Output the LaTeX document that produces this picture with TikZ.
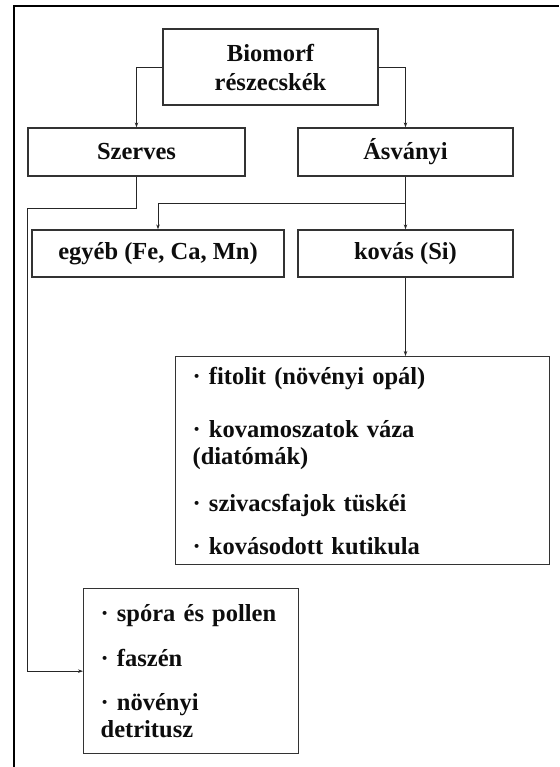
\documentclass[tikz,border=0pt]{standalone}
\usepackage{fontspec}
\setmainfont{Liberation Serif}
\newcommand\bxfont{\fontsize{24.5pt}{27pt}\selectfont\bfseries}
\usetikzlibrary{arrows.meta}
\begin{document}
\begin{tikzpicture}[x=1pt,y=-1pt,
  box/.style={draw=black!80,line width=1.3pt,inner sep=0pt,font=\bxfont,text=black!95,align=center},
  listbox/.style={box,align=left,anchor=north west,inner xsep=17pt},
  conn/.style={draw=black!85,line width=0.9pt},
  arr/.style={conn,-{Stealth[length=5pt,width=3.5pt]}},
  frame/.style={draw=black,line width=2.4pt}]
\useasboundingbox (0,0) rectangle (559,767);
\draw[frame] (14,767) -- (14,6) -- (559,6);
\node[box,minimum width=215pt,minimum height=76pt] (bio) at (270.5,67) {Biomorf\\[2pt]részecskék};
\node[box,minimum width=217pt,minimum height=48pt] (sz) at (136.5,152) {Szerves};
\node[box,minimum width=215pt,minimum height=48pt] (asv) at (405.5,152) {Ásványi};
\node[box,minimum width=252pt,minimum height=47pt] (egy) at (158,253.5) {egyéb (Fe, Ca, Mn)};
\node[box,minimum width=215pt,minimum height=47pt] (kov) at (405.5,253.5) {kovás (Si)};
\node[listbox,text width=340pt,minimum width=374pt,minimum height=208pt] (lst) at (175,356) {%
· fitolit (növényi opál)\\[26pt]
· kovamoszatok váza\\
(diatómák)\\[20pt]
· szivacsfajok tüskéi\\[16pt]
· kovásodott kutikula};
\node[listbox,text width=181pt,minimum width=215pt,minimum height=165pt] (bot) at (83,588) {%
· spóra és pollen\\[18pt]
· faszén\\[17pt]
· növényi\\
detritusz};
\coordinate (br) at (405.5,203);
\coordinate (t1) at (27,208);
\draw[arr] (bio.west) -| (sz.north);
\draw[arr] (bio.east) -| (asv.north);
\draw[arr] (asv.south) -- (kov.north);
\draw[arr] (br) -| (egy.north);
\draw[arr] (kov.south) -- (kov.south |- lst.north);
\draw[arr] (sz.south) |- (t1) |- (bot.west);
\end{tikzpicture}
\end{document}
